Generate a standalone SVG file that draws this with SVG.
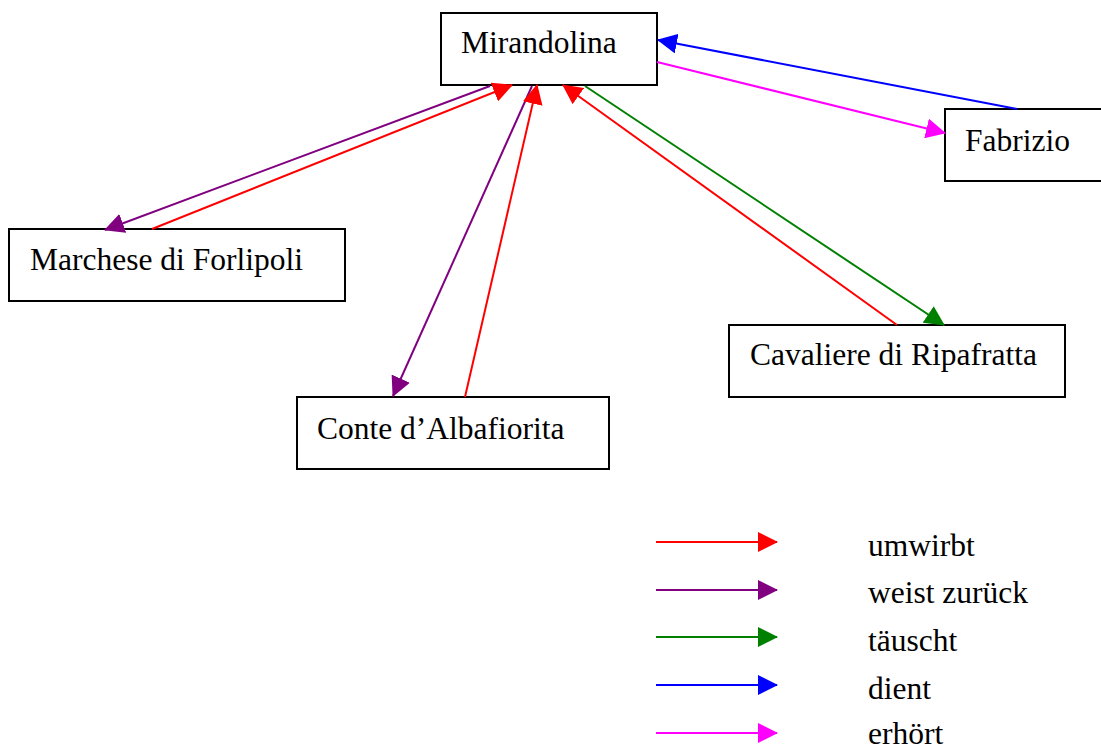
<svg xmlns="http://www.w3.org/2000/svg" width="1101" height="751" viewBox="0 0 1101 751">
  <style>
    .box { fill: #ffffff; stroke: #000000; stroke-width: 2; }
    .lbl { font-family: "Liberation Serif", "Times New Roman", serif; font-size: 31.5px; fill: #000000; }
    .e { fill: none; stroke-width: 2; }
    .red { stroke: #ff0000; marker-end: url(#ah-red); }
    .purple { stroke: #800080; marker-end: url(#ah-purple); }
    .green { stroke: #008000; marker-end: url(#ah-green); }
    .blue { stroke: #0000ff; marker-end: url(#ah-blue); }
    .magenta { stroke: #ff00ff; marker-end: url(#ah-magenta); }
  </style>
  <defs>
    <marker id="ah-red" markerUnits="userSpaceOnUse" markerWidth="20" markerHeight="20" refX="19" refY="10" orient="auto"><path d="M0,0 L20,10 L0,20 z" fill="#ff0000"/></marker>
    <marker id="ah-purple" markerUnits="userSpaceOnUse" markerWidth="20" markerHeight="20" refX="19" refY="10" orient="auto"><path d="M0,0 L20,10 L0,20 z" fill="#800080"/></marker>
    <marker id="ah-green" markerUnits="userSpaceOnUse" markerWidth="20" markerHeight="20" refX="19" refY="10" orient="auto"><path d="M0,0 L20,10 L0,20 z" fill="#008000"/></marker>
    <marker id="ah-blue" markerUnits="userSpaceOnUse" markerWidth="20" markerHeight="20" refX="19" refY="10" orient="auto"><path d="M0,0 L20,10 L0,20 z" fill="#0000ff"/></marker>
    <marker id="ah-magenta" markerUnits="userSpaceOnUse" markerWidth="20" markerHeight="20" refX="19" refY="10" orient="auto"><path d="M0,0 L20,10 L0,20 z" fill="#ff00ff"/></marker>
  </defs>

  <!-- characters -->
  <g id="mirandolina">
    <rect class="box" x="441" y="13" width="216" height="72"/>
    <text class="lbl" x="461" y="53">Mirandolina</text>
  </g>
  <g id="fabrizio">
    <rect class="box" x="945" y="109" width="160" height="72"/>
    <text class="lbl" x="965" y="151">Fabrizio</text>
  </g>
  <g id="marchese">
    <rect class="box" x="9" y="229" width="336" height="72"/>
    <text class="lbl" x="30" y="270">Marchese di Forlipoli</text>
  </g>
  <g id="conte">
    <rect class="box" x="297" y="397" width="312" height="72"/>
    <text class="lbl" x="317" y="439">Conte d’Albafiorita</text>
  </g>
  <g id="cavaliere">
    <rect class="box" x="729" y="325" width="336" height="72"/>
    <text class="lbl" x="750" y="365">Cavaliere di Ripafratta</text>
  </g>

  <!-- relations -->
  <g id="connectors">
    <line class="e purple" x1="490" y1="86" x2="105" y2="230"/>
    <line class="e red" x1="152" y1="229" x2="512" y2="85"/>
    <line class="e purple" x1="532" y1="86" x2="393" y2="396"/>
    <line class="e red" x1="465" y1="397" x2="537" y2="85"/>
    <line class="e red" x1="897" y1="325" x2="563" y2="85"/>
    <line class="e green" x1="585" y1="86" x2="944" y2="325"/>
    <line class="e blue" x1="1017" y1="109" x2="658" y2="40"/>
    <line class="e magenta" x1="657" y1="62" x2="945" y2="133"/>
  </g>

  <!-- legend -->
  <g id="legend">
    <line class="e red" x1="656" y1="542" x2="777" y2="542"/>
    <text class="lbl" x="868" y="556">umwirbt</text>
    <line class="e purple" x1="656" y1="590" x2="777" y2="590"/>
    <text class="lbl" x="868" y="603">weist zurück</text>
    <line class="e green" x1="656" y1="637" x2="777" y2="637"/>
    <text class="lbl" x="868" y="651">täuscht</text>
    <line class="e blue" x1="656" y1="685" x2="777" y2="685"/>
    <text class="lbl" x="868" y="699">dient</text>
    <line class="e magenta" x1="656" y1="733" x2="777" y2="733"/>
    <text class="lbl" x="868" y="744">erhört</text>
  </g>
</svg>
